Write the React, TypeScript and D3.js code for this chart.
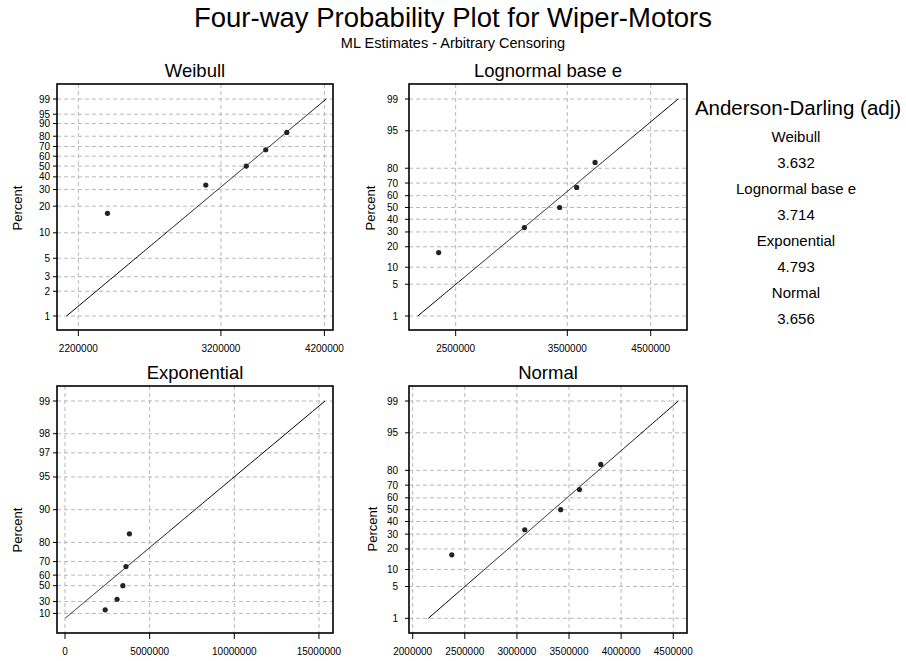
import React from "react";
import * as d3 from "d3";

// ---- Data ----
const percents = [16.67, 33.33, 50, 66.67, 83.33];
const failureTimes = [2375000, 3075000, 3420000, 3600000, 3805000];

const weibullPercentTicks = [1, 2, 3, 5, 10, 20, 30, 40, 50, 60, 70, 80, 90, 95, 99];
const lognormalPercentTicks = [1, 5, 10, 20, 30, 40, 50, 60, 70, 80, 95, 99];
const exponentialPercentTicks = [10, 30, 50, 60, 70, 80, 90, 95, 97, 98, 99];
const normalPercentTicks = [1, 5, 10, 20, 30, 40, 50, 60, 70, 80, 95, 99];

const weibullXTicks = [2200000, 3200000, 4200000];
const lognormalXTicks = [2500000, 3500000, 4500000];
const exponentialXTicks = [0, 5000000, 10000000, 15000000];
const normalXTicks = [2000000, 2500000, 3000000, 3500000, 4000000, 4500000];

const weibullFit = { shape: 8.98, scale: 3560000 };
const lognormalFit = { location: 15.01, scale: 0.1686 };
const exponentialFit = { mean: 3335000 };
const normalFit = { mean: 3349500, sd: 515600 };

const adNames = ["Weibull", "Lognormal base e", "Exponential", "Normal"];
const adValues = ["3.632", "3.714", "4.793", "3.656"];

const titleText = "Four-way Probability Plot for Wiper-Motors";
const subtitleText = "ML Estimates - Arbitrary Censoring";

// ---- helpers ----
function normInv(p: number): number {
  const a = [-3.969683028665376e1, 2.209460984245205e2, -2.759285104469687e2, 1.38357751867269e2, -3.066479806614716e1, 2.506628277459239];
  const b = [-5.447609879822406e1, 1.615858368580409e2, -1.556989798598866e2, 6.680131188771972e1, -1.328068155288572e1];
  const c = [-7.784894002430293e-3, -3.223964580411365e-1, -2.400758277161838, -2.549671010115819, 4.374664141464968, 2.938163982698783];
  const d = [7.784695709041462e-3, 3.224671290700398e-1, 2.445134137142996, 3.754408661907416];
  const pl = 0.02425;
  if (p < pl) {
    const q = Math.sqrt(-2 * Math.log(p));
    return (((((c[0] * q + c[1]) * q + c[2]) * q + c[3]) * q + c[4]) * q + c[5]) / ((((d[0] * q + d[1]) * q + d[2]) * q + d[3]) * q + 1);
  }
  if (p > 1 - pl) {
    const q = Math.sqrt(-2 * Math.log(1 - p));
    return -(((((c[0] * q + c[1]) * q + c[2]) * q + c[3]) * q + c[4]) * q + c[5]) / ((((d[0] * q + d[1]) * q + d[2]) * q + d[3]) * q + 1);
  }
  const q = p - 0.5;
  const r = q * q;
  return ((((((a[0] * r + a[1]) * r + a[2]) * r + a[3]) * r + a[4]) * r + a[5]) * q) / (((((b[0] * r + b[1]) * r + b[2]) * r + b[3]) * r + b[4]) * r + 1);
}

const tWeibull = (p: number) => Math.log(-Math.log(1 - p));
const tExp = (p: number) => -Math.log(1 - p);
const tNorm = (p: number) => normInv(p);

const FONT = "'Liberation Sans', Arial, Helvetica, sans-serif";

type PanelDef = {
  title: string;
  box: { left: number; right: number; top: number; bottom: number };
  xScale: any;
  xTicks: number[];
  yTicks: number[];
  yT: (p: number) => number;
  yDomain: [number, number];
  yRange: [number, number];
  quantile: (p: number) => number;
  yLabelGap: number;
  percentX: number;
  percentY: number;
};

const TOP = { top: 84, bottom: 330 };
const BOT = { top: 386, bottom: 633 };
const LEFT = { left: 57, right: 333 };
const RIGHT = { left: 409, right: 687 };

const panels: PanelDef[] = [
  {
    title: "Weibull",
    box: { ...LEFT, ...TOP },
    xScale: d3.scaleLog().domain([2080000, 4296000]).range([LEFT.left, LEFT.right]),
    xTicks: weibullXTicks,
    yTicks: weibullPercentTicks,
    yT: tWeibull,
    yDomain: [tWeibull(0.01), tWeibull(0.99)],
    yRange: [TOP.bottom - 14, TOP.top + 15],
    quantile: (p) => weibullFit.scale * Math.pow(-Math.log(1 - p), 1 / weibullFit.shape),
    yLabelGap: 7,
    percentX: 17,
    percentY: 208,
  },
  {
    title: "Lognormal base e",
    box: { ...RIGHT, ...TOP },
    xScale: d3.scaleLog().domain([2172000, 5020000]).range([RIGHT.left, RIGHT.right]),
    xTicks: lognormalXTicks,
    yTicks: lognormalPercentTicks,
    yT: tNorm,
    yDomain: [tNorm(0.01), tNorm(0.99)],
    yRange: [TOP.bottom - 14, TOP.top + 15],
    quantile: (p) => Math.exp(lognormalFit.location + lognormalFit.scale * normInv(p)),
    yLabelGap: 11,
    percentX: 370,
    percentY: 208,
  },
  {
    title: "Exponential",
    box: { ...LEFT, ...BOT },
    xScale: d3.scaleLinear().domain([-472000, 15830000]).range([LEFT.left, LEFT.right]),
    xTicks: exponentialXTicks,
    yTicks: exponentialPercentTicks,
    yT: tExp,
    yDomain: [0, tExp(0.99)],
    yRange: [BOT.bottom - 14.6, BOT.top + 15],
    quantile: (p) => -exponentialFit.mean * Math.log(1 - p),
    yLabelGap: 7,
    percentX: 17,
    percentY: 530,
  },
  {
    title: "Normal",
    box: { ...RIGHT, ...BOT },
    xScale: d3.scaleLinear().domain([1964500, 4632000]).range([RIGHT.left, RIGHT.right]),
    xTicks: normalXTicks,
    yTicks: normalPercentTicks,
    yT: tNorm,
    yDomain: [tNorm(0.01), tNorm(0.99)],
    yRange: [BOT.bottom - 14.7, BOT.top + 15],
    quantile: (p) => normalFit.mean + normalFit.sd * normInv(p),
    yLabelGap: 11,
    percentX: 372,
    percentY: 529,
  },
];

const fitProbs = d3.range(0.01, 0.99001, 0.0025);

function Panel({ def }: { def: PanelDef }) {
  const { box, xScale } = def;
  const yScale = d3.scaleLinear().domain(def.yDomain).range(def.yRange);
  const yOf = (pct: number) => yScale(def.yT(pct / 100));
  const line = d3
    .line<number>()
    .x((p) => xScale(def.quantile(p)))
    .y((p) => yScale(def.yT(p)));
  const cx = (box.left + box.right) / 2;
  return (
    <g>
      <text x={cx} y={box.top - 7} textAnchor="middle" fontSize={18.5} fontFamily={FONT} fill="#000">
        {def.title}
      </text>
      {def.yTicks.map((t) => (
        <line key={"gy" + t} x1={box.left} x2={box.right} y1={yOf(t)} y2={yOf(t)} stroke="#b8b8b8" strokeWidth={1} strokeDasharray="4,3" />
      ))}
      {def.xTicks.map((t) => (
        <line key={"gx" + t} x1={xScale(t)} x2={xScale(t)} y1={box.top} y2={box.bottom} stroke="#b8b8b8" strokeWidth={1} strokeDasharray="4,3" />
      ))}
      <path d={line(fitProbs) || ""} fill="none" stroke="#000" strokeWidth={1} />
      {failureTimes.map((v, i) => (
        <circle key={"pt" + i} cx={xScale(v)} cy={yOf(percents[i])} r={2.6} fill="#222" />
      ))}
      <rect x={box.left} y={box.top} width={box.right - box.left} height={box.bottom - box.top} fill="none" stroke="#000" strokeWidth={1.6} />
      {def.yTicks.map((t) => (
        <g key={"yt" + t}>
          <line x1={box.left - 4} x2={box.left} y1={yOf(t)} y2={yOf(t)} stroke="#000" strokeWidth={1} />
          <text x={box.left - def.yLabelGap} y={yOf(t)} dy="0.35em" textAnchor="end" fontSize={10} fontFamily={FONT} fill="#000">
            {t}
          </text>
        </g>
      ))}
      {def.xTicks.map((t) => (
        <g key={"xt" + t}>
          <line x1={xScale(t)} x2={xScale(t)} y1={box.bottom} y2={box.bottom + 6} stroke="#000" strokeWidth={1} />
          <text x={xScale(t)} y={box.bottom + 21.5} textAnchor="middle" fontSize={10} fontFamily={FONT} fill="#000">
            {t}
          </text>
        </g>
      ))}
      <text
        x={def.percentX}
        y={def.percentY}
        transform={`rotate(-90, ${def.percentX}, ${def.percentY})`}
        textAnchor="middle"
        dy="0.35em"
        fontSize={13}
        fontFamily={FONT}
        fill="#000"
      >
        Percent
      </text>
    </g>
  );
}

export default function App() {
  return (
    <svg width={906} height={661} style={{ position: "absolute", left: 0, top: 0, background: "#fff" }}>
      <rect x={0} y={0} width={906} height={661} fill="#fff" />
      <text x={453} y={27} textAnchor="middle" fontSize={27.5} fontFamily={FONT} fill="#000">
        {titleText}
      </text>
      <text x={453} y={47.5} textAnchor="middle" fontSize={14.5} fontFamily={FONT} fill="#000">
        {subtitleText}
      </text>
      {panels.map((p) => (
        <Panel key={p.title} def={p} />
      ))}
      <text x={798} y={115} textAnchor="middle" fontSize={20.5} fontFamily={FONT} fill="#000">
        Anderson-Darling (adj)
      </text>
      {adNames.map((n, i) => (
        <g key={n}>
          <text x={796} y={142 + i * 52} textAnchor="middle" fontSize={15} fontFamily={FONT} fill="#000">
            {n}
          </text>
          <text x={796} y={168 + i * 52} textAnchor="middle" fontSize={15} fontFamily={FONT} fill="#000">
            {adValues[i]}
          </text>
        </g>
      ))}
    </svg>
  );
}
